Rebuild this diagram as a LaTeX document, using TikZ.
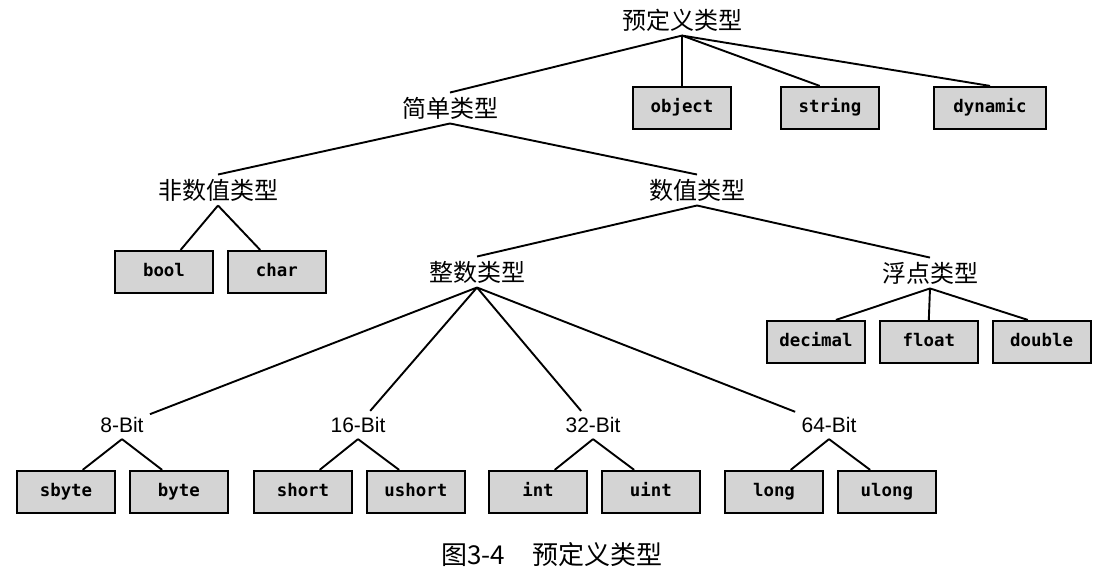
\documentclass[tikz,border=0pt]{standalone}
\usepackage{fontspec}
\usepackage{xcolor}
\usepackage{tikz}
\usetikzlibrary{positioning}
\newfontfamily\cjk{Noto Sans CJK SC}
\newfontfamily\bitfont{Liberation Sans}
\newfontfamily\boxfont{DejaVu Sans Mono}
\definecolor{boxgray}{RGB}{212,212,212}

\begin{document}
\begin{tikzpicture}[x=0.5pt, y=-0.5pt,
  bx/.style={rectangle, draw=black, line width=1.1pt, fill=boxgray,
             minimum width=49pt, minimum height=21pt, inner sep=2pt,
             font=\boxfont\bfseries\fontsize{8.7}{10}\selectfont,
             text height=1.5ex, text depth=.5ex},
  lb/.style={inner sep=2pt, font=\cjk\fontsize{12}{14}\selectfont},
  bl/.style={inner sep=3pt, font=\bitfont\fontsize{10.5}{12}\selectfont},
  ln/.style={line width=0.95pt},
  node distance=6.3pt]

\useasboundingbox (0,0) rectangle (1103,574);

\node[lb] (root) at (682,20) {预定义类型};
\node[lb] (simple) at (450,108) {简单类型};
\node[bx] (obj) at (682,108) {object};
\node[bx] (str) at (830,108) {string};
\node[bx, minimum width=56pt] (dyn) at (990,108) {dynamic};

\node[lb] (nonnum) at (218,190) {非数值类型};
\node[lb] (num) at (697,190) {数值类型};
\node[bx] (bool) at (164,272) {bool};
\node[bx, right=of bool] (chr) {char};

\node[lb] (intg) at (477,272) {整数类型};
\node[lb] (flt) at (930,273) {浮点类型};
\node[bx] (dec) at (816,342) {decimal};
\node[bx, right=of dec] (flo) {float};
\node[bx, right=of flo] (dbl) {double};

\node[bl] (b8) at (122,425) {8-Bit};
\node[bl] (b16) at (358,425) {16-Bit};
\node[bl] (b32) at (593,425) {32-Bit};
\node[bl] (b64) at (829,425) {64-Bit};
\node[bx] (sbyte) at (66,492) {sbyte};
\node[bx, right=of sbyte] (byte) {byte};
\node[bx] (short) at (303,492) {short};
\node[bx, right=of short] (ushort) {ushort};
\node[bx] (int) at (538,492) {int};
\node[bx, right=of int] (uint) {uint};
\node[bx] (long) at (774,492) {long};
\node[bx, right=of long] (ulong) {ulong};

\node[font=\cjk\fontsize{13}{15}\selectfont] (cap) at (552,555) {图3-4\hspace{14pt}预定义类型};

\draw[ln] (root.south) -- (simple.north);
\draw[ln] (root.south) -- (obj.north);
\draw[ln] (root.south) -- (str.115);
\draw[ln] (root.south) -- (dyn.north);
\draw[ln] (simple.south) -- (nonnum.north);
\draw[ln] (simple.south) -- (num.north);
\draw[ln] (nonnum.south) -- (bool.53);
\draw[ln] (nonnum.south) -- (chr.127);
\draw[ln] (num.south) -- (intg.north);
\draw[ln] (num.south) -- (flt.north);
\draw[ln] (flt.south) -- (dec.48);
\draw[ln] (flt.south) -- (flo.north);
\draw[ln] (flt.south) -- (dbl.122);
\draw[ln] (intg.south) -- (b8);
\draw[ln] (intg.south) -- (b16);
\draw[ln] (intg.south) -- (b32);
\draw[ln] (intg.south) -- (b64);
\draw[ln] (b8.south) -- (sbyte.53);
\draw[ln] (b8.south) -- (byte.127);
\draw[ln] (b16.south) -- (short.53);
\draw[ln] (b16.south) -- (ushort.127);
\draw[ln] (b32.south) -- (int.53);
\draw[ln] (b32.south) -- (uint.127);
\draw[ln] (b64.south) -- (long.53);
\draw[ln] (b64.south) -- (ulong.127);
\end{tikzpicture}
\end{document}
